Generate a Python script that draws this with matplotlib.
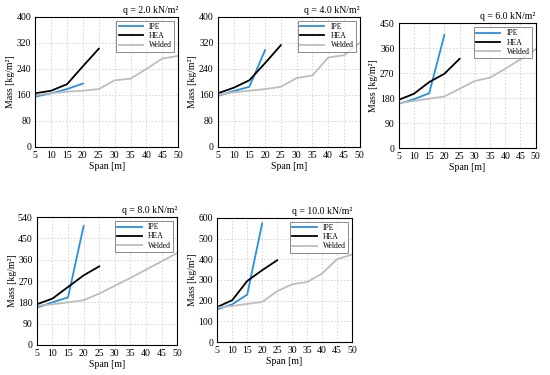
import matplotlib
matplotlib.use("Agg")
import matplotlib.pyplot as plt

plt.rcParams['font.family'] = ['Liberation Serif', 'DejaVu Serif']

span_ipe = [5, 10, 15, 20]
span_hea = [5, 10, 15, 20, 25]
span_welded = [5, 10, 15, 20, 25, 30, 35, 40, 45, 50]

loads = ["2.0", "4.0", "6.0", "8.0", "10.0"]

ipe = [
    [155, 165, 178, 195],
    [157, 172, 185, 298],
    [160, 176, 198, 408],
    [158, 180, 201, 502],
    [158, 182, 229, 573],
]
hea = [
    [165, 173, 193, 248, 302],
    [165, 182, 205, 258, 313],
    [174, 196, 238, 268, 322],
    [172, 196, 245, 294, 332],
    [169, 202, 295, 347, 395],
]
welded = [
    [160, 165, 170, 173, 178, 205, 210, 240, 272, 280],
    [160, 168, 173, 178, 185, 212, 220, 275, 282, 320],
    [162, 170, 178, 186, 214, 242, 254, 286, 320, 356],
    [165, 172, 180, 189, 217, 250, 283, 318, 353, 388],
    [166, 174, 184, 194, 245, 279, 290, 331, 400, 423],
]
y_max = [400, 400, 450, 540, 600]
y_step = [80, 80, 90, 90, 100]

# axes boxes in figure fractions (left, bottom, width, height)
boxes = [
    (0.064, 0.608, 0.260, 0.347),
    (0.396, 0.608, 0.258, 0.347),
    (0.725, 0.605, 0.249, 0.333),
    (0.067, 0.080, 0.255, 0.341),
    (0.395, 0.088, 0.245, 0.331),
]

fig = plt.figure(figsize=(5.5, 3.75), dpi=100)

for i in range(5):
    ax = fig.add_axes(boxes[i])
    ax.plot(span_ipe, ipe[i], color="#2a8fdc", lw=1.3, label="IPE")
    ax.plot(span_hea, hea[i], color="black", lw=1.3, label="HEA")
    ax.plot(span_welded, welded[i], color="#bdbdbd", lw=1.3, label="Welded")
    ax.set_xlim(5, 50)
    ax.set_ylim(0, y_max[i])
    ax.set_xticks(range(5, 51, 5))
    ax.set_yticks(range(0, y_max[i] + 1, y_step[i]))
    ax.grid(True, color="#d0d0d0", ls=(0, (2, 2)), lw=0.6)
    ax.tick_params(length=0, labelsize=7, pad=3)
    for s in ax.spines.values():
        s.set_linewidth(0.8)
    ax.set_xlabel("Span [m]", fontsize=7, labelpad=1)
    ax.set_ylabel("Mass [kg/m²]", fontsize=7, labelpad=1)
    ax.set_title("q = " + loads[i] + " kN/m²", fontsize=7, loc="right", pad=3)
    leg = ax.legend(loc="upper right", fontsize=5.5, frameon=True, fancybox=False,
                    edgecolor="#555555", borderaxespad=0.5, handlelength=3.2,
                    labelspacing=0.15, borderpad=0.3)
    leg.get_frame().set_linewidth(0.6)

fig.savefig("out.png", dpi=100)
